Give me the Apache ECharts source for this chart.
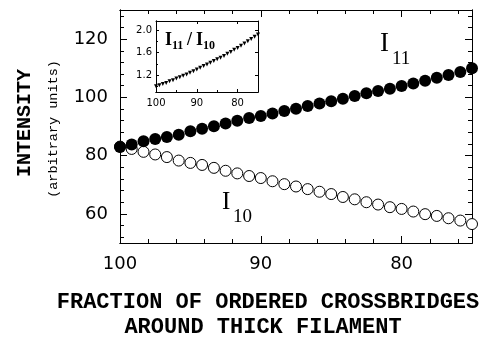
<!DOCTYPE html>
<html>
<head>
<meta charset="utf-8">
<script src="https://cdn.jsdelivr.net/npm/echarts@6/dist/echarts.min.js"></script>
<style>
html,body{margin:0;padding:0;background:#fff;}
#chart{width:489px;height:339px;}
</style>
</head>
<body>
<div id="chart"></div>
<script>
const xVals = [100,99.17,98.33,97.5,96.67,95.83,95,94.17,93.33,92.5,91.67,90.83,90,89.17,88.33,87.5,86.67,85.83,85,84.17,83.33,82.5,81.67,80.83,80,79.17,78.33,77.5,76.67,75.83,75];
const i11 = [83.0,83.8,84.9,85.7,86.4,87.2,88.4,89.2,90.1,91.0,92.0,92.9,93.6,94.5,95.3,96.1,97.0,97.9,98.7,99.5,100.5,101.4,102.2,103.0,103.9,104.8,105.7,106.7,107.7,108.7,110.0];
const i10 = [83.1,82.3,81.3,80.4,79.5,78.3,77.5,76.8,75.8,74.8,73.9,73.0,72.3,71.2,70.2,69.4,68.5,67.6,66.8,65.8,65.0,64.0,63.2,62.3,61.7,60.8,59.9,59.3,58.5,57.7,56.5];
const ratio = [1.00,1.02,1.04,1.06,1.09,1.11,1.14,1.16,1.19,1.21,1.24,1.27,1.30,1.33,1.36,1.39,1.42,1.45,1.48,1.51,1.54,1.58,1.61,1.65,1.68,1.72,1.76,1.80,1.84,1.88,1.92];

const mainXTicks = [100,90,80];
const mainXMinor = [98,96,94,92,88,86,84,82,78,76];
const mainYTicks = [60,80,100,120];
const mainYMinor = [52,56,64,68,72,76,84,88,92,96,104,108,112,116,124,128];
const insetXTicks = [100,90,80];
const insetXMinor = [95,85];
const insetYTicks = [1.2,1.6,2.0];
const insetYMinor = [1.0,1.4,1.8];

const axisLineStyle = {show:true, onZero:false, lineStyle:{color:'#000', width:1}};

function mkAxis(o){
  return {
    type:'value', gridIndex:o.grid, position:o.pos, min:o.min, max:o.max, inverse:!!o.inverse,
    axisLine:axisLineStyle,
    axisTick:{show:true, inside:true, length:o.len, customValues:o.ticks, lineStyle:{color:'#000', width:1}},
    axisLabel:o.labels ? {show:true, customValues:o.labels, color:'#000', fontFamily:'DejaVu Sans', fontSize:o.fs, margin:o.margin} : {show:false},
    splitLine:{show:false}, minorTick:{show:false}
  };
}

const xAxes = [
  mkAxis({grid:0,pos:'bottom',min:75,max:100,inverse:true,len:7,ticks:mainXTicks,labels:mainXTicks,fs:18,margin:12}),
  mkAxis({grid:0,pos:'bottom',min:75,max:100,inverse:true,len:4,ticks:mainXMinor}),
  mkAxis({grid:0,pos:'top',min:75,max:100,inverse:true,len:7,ticks:mainXTicks}),
  mkAxis({grid:0,pos:'top',min:75,max:100,inverse:true,len:4,ticks:mainXMinor}),
  mkAxis({grid:1,pos:'bottom',min:75,max:100,inverse:true,len:3,ticks:insetXTicks,labels:insetXTicks,fs:10,margin:6}),
  mkAxis({grid:1,pos:'bottom',min:75,max:100,inverse:true,len:2,ticks:insetXMinor}),
  mkAxis({grid:1,pos:'top',min:75,max:100,inverse:true,len:3,ticks:insetXTicks})
];
const yAxes = [
  mkAxis({grid:0,pos:'left',min:50,max:130,len:7,ticks:mainYTicks,labels:mainYTicks,fs:18,margin:12}),
  mkAxis({grid:0,pos:'left',min:50,max:130,len:4,ticks:mainYMinor}),
  mkAxis({grid:0,pos:'right',min:50,max:130,len:7,ticks:mainYTicks}),
  mkAxis({grid:0,pos:'right',min:50,max:130,len:4,ticks:mainYMinor}),
  mkAxis({grid:1,pos:'left',min:0.9,max:2.16,len:3,ticks:insetYTicks,labels:insetYTicks,fs:10,margin:4}),
  mkAxis({grid:1,pos:'left',min:0.9,max:2.16,len:2,ticks:insetYMinor}),
  mkAxis({grid:1,pos:'right',min:0.9,max:2.16,len:3,ticks:insetYTicks})
];
yAxes[4].axisLabel.formatter = v => v.toFixed(1);

function pairs(xs, ys){ return xs.map((x,i)=>[x, ys[i]]); }

const option = {
  animation:false,
  backgroundColor:'#fff',
  grid:[
    {left:120, right:17, top:10, bottom:96, outerBoundsMode:'none', containLabel:false},
    {left:156, top:21, width:102, height:71, outerBoundsMode:'none', containLabel:false}
  ],
  xAxis:xAxes,
  yAxis:yAxes,
  series:[
    {type:'scatter', name:'I10', xAxisIndex:0, yAxisIndex:0, data:pairs(xVals,i10), symbol:'circle', symbolSize:11,
     itemStyle:{color:'#fff', borderColor:'#000', borderWidth:1, opacity:1}, z:2},
    {type:'scatter', name:'I11', xAxisIndex:0, yAxisIndex:0, data:pairs(xVals,i11), symbol:'circle', symbolSize:12,
     itemStyle:{color:'#000', opacity:1}, z:3},
    {type:'scatter', name:'ratio', xAxisIndex:4, yAxisIndex:4, data:pairs(xVals,ratio), symbol:'triangle', symbolRotate:180, symbolSize:4,
     itemStyle:{color:'#000', opacity:1}, z:6}
  ],
  graphic:[
    {type:'text', x:25, y:123, rotation:Math.PI/2, style:{text:'INTENSITY', font:'bold 20px "Liberation Mono"', fill:'#000', align:'center', verticalAlign:'middle'}},
    {type:'text', x:53, y:129, rotation:Math.PI/2, style:{text:'(arbitrary units)', font:'13.5px "Liberation Mono"', fill:'#000', align:'center', verticalAlign:'middle'}},
    {type:'text', x:268, y:302, style:{text:'FRACTION OF ORDERED CROSSBRIDGES', font:'bold 22px "Liberation Mono"', fill:'#000', align:'center', verticalAlign:'middle'}},
    {type:'text', x:263, y:327, style:{text:'AROUND THICK FILAMENT', font:'bold 22px "Liberation Mono"', fill:'#000', align:'center', verticalAlign:'middle'}},
    {type:'text', x:380, y:44, style:{text:'I', font:'27px "Liberation Serif"', fill:'#000', align:'left', verticalAlign:'middle'}},
    {type:'text', x:392, y:59, style:{text:'11', font:'19px "Liberation Serif"', fill:'#000', align:'left', verticalAlign:'middle'}},
    {type:'text', x:222, y:202, style:{text:'I', font:'25px "Liberation Serif"', fill:'#000', align:'left', verticalAlign:'middle'}},
    {type:'text', x:233, y:217, style:{text:'10', font:'19px "Liberation Serif"', fill:'#000', align:'left', verticalAlign:'middle'}},
    {type:'text', x:165, y:40, z:100, style:{text:'I', font:'bold 18px "Liberation Serif"', fill:'#000', align:'left', verticalAlign:'middle'}},
    {type:'text', x:172, y:46, z:100, style:{text:'11', font:'bold 12px "Liberation Serif"', fill:'#000', align:'left', verticalAlign:'middle'}},
    {type:'text', x:187, y:40, z:100, style:{text:'/', font:'bold 18px "Liberation Serif"', fill:'#000', align:'left', verticalAlign:'middle'}},
    {type:'text', x:196, y:40, z:100, style:{text:'I', font:'bold 18px "Liberation Serif"', fill:'#000', align:'left', verticalAlign:'middle'}},
    {type:'text', x:203, y:46, z:100, style:{text:'10', font:'bold 12px "Liberation Serif"', fill:'#000', align:'left', verticalAlign:'middle'}}
  ]
};

const chart = echarts.init(document.getElementById('chart'), null, {renderer:'canvas'});
chart.setOption(option);
</script>
</body>
</html>
